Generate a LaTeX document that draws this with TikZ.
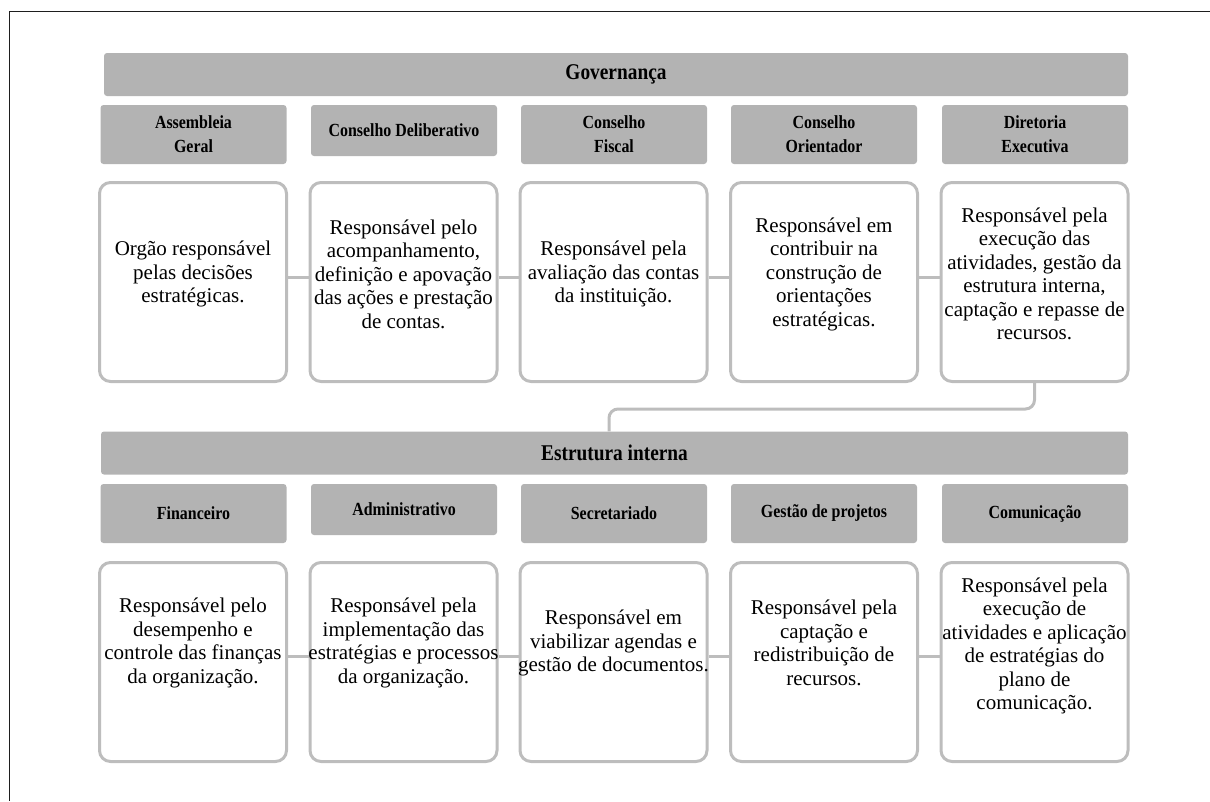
\documentclass[tikz,border=0pt]{standalone}
\usepackage{fontspec}
\setmainfont{Liberation Serif}
\newfontfamily\hdrfont[FakeStretch=0.86]{Liberation Serif}
\usetikzlibrary{calc}
\definecolor{hdr}{RGB}{179,179,179}
\definecolor{brd}{RGB}{189,189,189}
\definecolor{framec}{RGB}{30,30,30}
\begin{document}
\begin{tikzpicture}[x=1pt,y=-1pt,
 bar/.style={fill=hdr, rounded corners=3pt, minimum width=#1, minimum height=43pt, inner sep=0pt, font=\hdrfont\fontsize{22.5}{24}\selectfont\bfseries},
 hbox/.style={fill=hdr, rounded corners=3pt, minimum width=186pt, minimum height=59pt, inner sep=0pt, align=center, font=\hdrfont\fontsize{18.5}{24}\selectfont\bfseries},
 hshort/.style={hbox, minimum height=51pt},
 cbox/.style={draw=brd, line width=3pt, rounded corners=11pt, fill=white, minimum width=187pt, minimum height=199pt, inner sep=0pt},
 ctext/.style={align=center, inner sep=0pt, font=\fontsize{21}{23.5}\selectfont},
 link/.style={draw=brd, line width=3pt},
 frameline/.style={draw=framec, line width=1pt}]
\useasboundingbox (0,0) rectangle (1210,801);
% frame
\coordinate (ftl) at (9,11);
\coordinate (ftr) at (1210,11);
\coordinate (fbl) at (9,801);
\draw[frameline] (ftr) -- (ftl) -- (fbl);

% Governanca
\node[bar=1024pt] (gov) at (616,74.5) {Governança};
\node[hbox] (gh1) at (193.5,134.5) {Assembleia\\Geral};
\node[hshort] (gh2) at (404,130.5) {Conselho Deliberativo};
\node[hbox] (gh3) at (614,134.5) {Conselho\\Fiscal};
\node[hbox] (gh4) at (824,134.5) {Conselho\\Orientador};
\node[hbox] (gh5) at (1035,134.5) {Diretoria\\Executiva};

\node[cbox] (g1) at (193,282) {};
\node[cbox] (g2) at (403.5,282) {};
\node[cbox] (g3) at (613.5,282) {};
\node[cbox] (g4) at (824,282) {};
\node[cbox] (g5) at (1034.5,282) {};

\node[ctext] (g1t) at (193,274) {Orgão responsável\\pelas decisões\\estratégicas.};
\node[ctext] (g2t) at (403.5,274) {Responsável pelo\\acompanhamento,\\definição e apovação\\das ações e prestação\\de contas.};
\node[ctext] (g3t) at (613.5,274) {Responsável pela\\avaliação das contas\\da instituição.};
\node[ctext] (g4t) at (824,274) {Responsável em\\contribuir na\\construção de\\orientações\\estratégicas.};
\node[ctext] (g5t) at (1034.5,274) {Responsável pela\\execução das\\atividades, gestão da\\estrutura interna,\\captação e repasse de\\recursos.};

\coordinate (r1) at (0,277);
\draw[link] (g1.east |- r1) -- (g2.west |- r1);
\draw[link] (g2.east |- r1) -- (g3.west |- r1);
\draw[link] (g3.east |- r1) -- (g4.west |- r1);
\draw[link] (g4.east |- r1) -- (g5.west |- r1);

% Estrutura interna
\node[bar=1027pt] (est) at (614.5,453) {Estrutura interna};
\coordinate (jn) at (609,409);
\draw[link, rounded corners=9pt] (g5.south) |- (jn) -- (jn |- est.north);

\node[hbox] (eh1) at (193.5,513.5) {Financeiro};
\node[hshort] (eh2) at (404,509.5) {Administrativo};
\node[hbox] (eh3) at (614,513.5) {Secretariado};
\node[hbox] (eh4) at (824,513.5) {Gestão de projetos};
\node[hbox] (eh5) at (1035,513.5) {Comunicação};

\node[cbox] (e1) at (193,662) {};
\node[cbox] (e2) at (403.5,662) {};
\node[cbox] (e3) at (613.5,662) {};
\node[cbox] (e4) at (824,662) {};
\node[cbox] (e5) at (1034.5,662) {};

\node[ctext] (e1t) at (193,643) {Responsável pelo\\desempenho e\\controle das finanças\\da organização.};
\node[ctext] (e2t) at (403.5,643) {Responsável pela\\implementação das\\estratégias e processos\\da organização.};
\node[ctext] (e3t) at (613.5,643) {Responsável em\\viabilizar agendas e\\gestão de documentos.};
\node[ctext] (e4t) at (824,643) {Responsável pela\\captação e\\redistribuição de\\recursos.};
\node[ctext] (e5t) at (1034.5,646) {Responsável pela\\execução de\\atividades e aplicação\\de estratégias do\\plano de\\comunicação.};

\coordinate (r2) at (0,656);
\draw[link] (e1.east |- r2) -- (e2.west |- r2);
\draw[link] (e2.east |- r2) -- (e3.west |- r2);
\draw[link] (e3.east |- r2) -- (e4.west |- r2);
\draw[link] (e4.east |- r2) -- (e5.west |- r2);
\end{tikzpicture}
\end{document}
